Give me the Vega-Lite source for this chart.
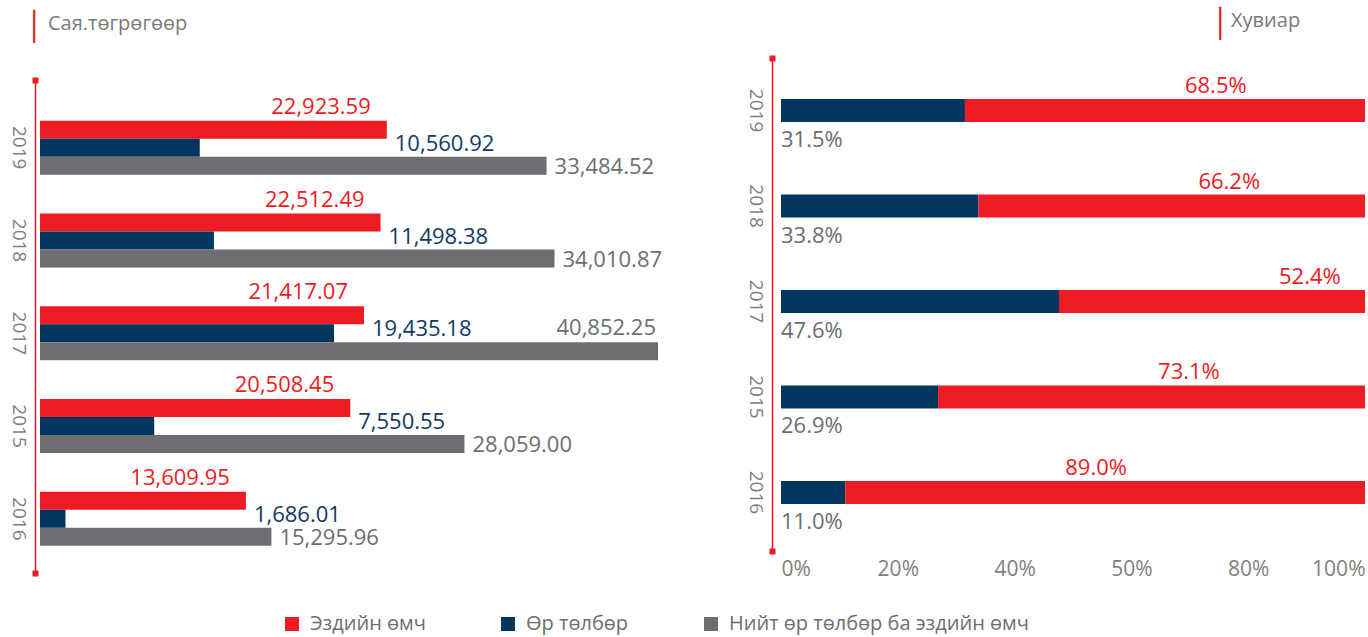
{
  "$schema": "https://vega.github.io/schema/vega-lite/v6.json",
  "background": "white",
  "padding": {"left": 8, "top": 11, "right": 2, "bottom": 2},
  "spacing": 25,
  "config": {
    "view": {"stroke": null},
    "font": "Open Sans",
    "axis": {"grid": false, "title": null},
    "title": {"anchor": "start", "frame": "group", "fontWeight": "normal"}
  },
  "datasets": {
    "fin": [
      {"year": "2019", "Эздийн өмч": 22923.59, "Өр төлбөр": 10560.92, "Нийт өр төлбөр ба эздийн өмч": 33484.52, "eqShare": 0.685, "liabShare": 0.315},
      {"year": "2018", "Эздийн өмч": 22512.49, "Өр төлбөр": 11498.38, "Нийт өр төлбөр ба эздийн өмч": 34010.87, "eqShare": 0.662, "liabShare": 0.338},
      {"year": "2017", "Эздийн өмч": 21417.07, "Өр төлбөр": 19435.18, "Нийт өр төлбөр ба эздийн өмч": 40852.25, "eqShare": 0.524, "liabShare": 0.476},
      {"year": "2015", "Эздийн өмч": 20508.45, "Өр төлбөр": 7550.55, "Нийт өр төлбөр ба эздийн өмч": 28059.00, "eqShare": 0.731, "liabShare": 0.269},
      {"year": "2016", "Эздийн өмч": 13609.95, "Өр төлбөр": 1686.01, "Нийт өр төлбөр ба эздийн өмч": 15295.96, "eqShare": 0.890, "liabShare": 0.110}
    ]
  },
  "hconcat": [
    {
      "title": {"text": "│", "color": "#ED1C24", "font": "DejaVu Sans", "fontSize": 28, "dx": -14, "offset": -28},
      "spacing": 15,
      "vconcat": [
        {
          "width": 680,
          "height": 1,
          "title": {"text": "Сая.төгрөгөөр", "color": "#7a7a7a", "font": "Open Sans", "fontSize": 20, "dx": 8, "offset": 24},
          "data": {"values": [{}]},
          "mark": {"type": "rule", "opacity": 0},
          "encoding": {}
        },
        {
          "width": 680,
          "height": 493,
          "data": {"name": "fin"},
          "transform": [{"fold": ["Эздийн өмч", "Өр төлбөр", "Нийт өр төлбөр ба эздийн өмч"], "as": ["series", "value"]}],
          "encoding": {
            "y": {
              "field": "year", "type": "nominal",
              "sort": ["2019", "2018", "2017", "2015", "2016"],
              "scale": {"paddingInner": 0.418, "paddingOuter": 0.366, "align": 0.6},
              "axis": {"orient": "left", "domainColor": "#ED1C24", "domainWidth": 1.5, "ticks": false, "labelAngle": 90, "labelAlign": "center", "labelBaseline": "top", "labelFontSize": 19, "labelColor": "#7f7f7f", "labelPadding": 8, "offset": 5}
            },
            "yOffset": {
              "field": "series", "type": "nominal",
              "sort": ["Эздийн өмч", "Өр төлбөр", "Нийт өр төлбөр ба эздийн өмч"],
              "scale": {"paddingInner": 0, "paddingOuter": 0}
            }
          },
          "resolve": {"axis": {"x": "independent"}},
          "layer": [
            {
              "mark": {"type": "bar"},
              "encoding": {
                "x": {"field": "value", "type": "quantitative", "scale": {"domain": [0, 44950], "nice": false},
                      "axis": {"orient": "bottom", "values": [0], "labels": false, "domain": false, "ticks": true, "tickColor": "#ED1C24", "tickWidth": 6, "tickSize": 6, "tickOffset": -5, "offset": -3, "tickCap": "butt"}},
                "color": {
                  "field": "series", "type": "nominal",
                  "scale": {"domain": ["Эздийн өмч", "Өр төлбөр", "Нийт өр төлбөр ба эздийн өмч"], "range": ["#ED1C24", "#02365F", "#6D6E71"]},
                  "legend": {"orient": "none", "legendX": 242, "legendY": 556, "padding": 0, "title": null, "direction": "horizontal", "symbolType": "square", "symbolSize": 196, "symbolStrokeWidth": 0, "labelFontSize": 20, "labelColor": "#6D6E71", "labelOffset": 8, "labelLimit": 500, "columnPadding": 72}
                }
              }
            },
            {
              "transform": [{"filter": "datum.series == 'Эздийн өмч'"}],
              "mark": {"type": "text", "align": "right", "baseline": "alphabetic", "dx": -16, "dy": -16, "fontSize": 22, "color": "#ED1C24"},
              "encoding": {
                "x": {"field": "value", "type": "quantitative", "scale": {"domain": [0, 44950], "nice": false},
                      "axis": {"orient": "top", "values": [0], "labels": false, "domain": false, "ticks": true, "tickColor": "#ED1C24", "tickWidth": 6, "tickSize": 6, "tickOffset": -5, "offset": -3, "tickCap": "butt"}},
                "text": {"field": "value", "type": "quantitative", "format": ",.2f"}
              }
            },
            {
              "transform": [{"filter": "datum.series == 'Өр төлбөр'"}],
              "mark": {"type": "text", "align": "left", "baseline": "alphabetic", "dx": 8, "dy": 3, "fontSize": 22, "color": "#123A63"},
              "encoding": {
                "x": {"field": "Эздийн өмч", "type": "quantitative", "scale": {"domain": [0, 44950], "nice": false}, "axis": null},
                "text": {"field": "value", "type": "quantitative", "format": ",.2f"}
              }
            },
            {
              "transform": [{"filter": "datum.series == 'Нийт өр төлбөр ба эздийн өмч' && datum.year != '2017'"}],
              "mark": {"type": "text", "align": "left", "baseline": "alphabetic", "dx": 8, "dy": 8, "fontSize": 22, "color": "#6D6E71"},
              "encoding": {
                "x": {"field": "value", "type": "quantitative", "scale": {"domain": [0, 44950], "nice": false}, "axis": null},
                "text": {"field": "value", "type": "quantitative", "format": ",.2f"}
              }
            },
            {
              "transform": [{"filter": "datum.series == 'Нийт өр төлбөр ба эздийн өмч' && datum.year == '2017'"}],
              "mark": {"type": "text", "align": "right", "baseline": "alphabetic", "dx": -2, "dy": -16, "fontSize": 22, "color": "#6D6E71"},
              "encoding": {
                "x": {"field": "value", "type": "quantitative", "scale": {"domain": [0, 44950], "nice": false}, "axis": null},
                "text": {"field": "value", "type": "quantitative", "format": ",.2f"}
              }
            }
          ]
        }
      ]
    },
    {
      "title": {"text": "│", "color": "#ED1C24", "font": "DejaVu Sans", "fontSize": 28, "dx": 431, "offset": -28},
      "vconcat": [
        {
          "width": 584,
          "height": 493,
          "title": {"text": "Хувиар", "color": "#7a7a7a", "font": "Open Sans", "fontSize": 20, "dx": 450, "offset": 21},
          "data": {"name": "fin"},
          "encoding": {
            "y": {
              "field": "year", "type": "nominal",
              "sort": ["2019", "2018", "2017", "2015", "2016"],
              "scale": {"paddingInner": 0.759, "paddingOuter": 0.461, "align": 0.466},
              "axis": {"orient": "left", "domainColor": "#ED1C24", "domainWidth": 1.5, "ticks": false, "labelAngle": 90, "labelAlign": "center", "labelBaseline": "top", "labelFontSize": 19, "labelColor": "#7f7f7f", "labelPadding": 8, "offset": 9}
            }
          },
          "resolve": {"axis": {"x": "independent"}},
          "layer": [
            {
              "mark": {"type": "bar", "color": "#02365F"},
              "encoding": {
                "x": {"field": "liabShare", "type": "quantitative", "scale": {"domain": [0, 1], "nice": false},
                      "axis": {"orient": "bottom", "values": [0, 0.2, 0.4, 0.6, 0.8, 1], "labelExpr": "datum.value == 0.6 ? '50%' : format(datum.value, '.0%')", "labelFlush": true, "labelFontSize": 21, "labelColor": "#808080", "labelPadding": 4, "labelOffset": 9, "domain": false, "ticks": true, "tickColor": {"condition": {"test": "datum.value == 0", "value": "#ED1C24"}, "value": "rgba(0,0,0,0)"}, "tickWidth": 6, "tickSize": 6, "tickOffset": -9, "offset": -3, "tickCap": "butt"}}
              }
            },
            {
              "mark": {"type": "bar", "color": "#ED1C24"},
              "encoding": {
                "x": {"field": "liabShare", "type": "quantitative", "scale": {"domain": [0, 1], "nice": false}, "axis": null},
                "x2": {"datum": 1}
              }
            },
            {
              "mark": {"type": "text", "align": "left", "baseline": "alphabetic", "dx": 220, "dy": -17.5, "fontSize": 22, "color": "#ED1C24"},
              "encoding": {
                "x": {"field": "liabShare", "type": "quantitative", "scale": {"domain": [0, 1], "nice": false},
                      "axis": {"orient": "top", "values": [0], "labels": false, "domain": false, "ticks": true, "tickColor": "#ED1C24", "tickWidth": 6, "tickSize": 6, "tickOffset": -9, "offset": -3, "tickCap": "butt"}},
                "text": {"field": "eqShare", "type": "quantitative", "format": ".1%"}
              }
            },
            {
              "mark": {"type": "text", "align": "left", "baseline": "alphabetic", "dy": 36.5, "fontSize": 22, "color": "#6D6E71"},
              "encoding": {
                "x": {"datum": 0, "type": "quantitative", "scale": {"domain": [0, 1], "nice": false}, "axis": null},
                "text": {"field": "liabShare", "type": "quantitative", "format": ".1%"}
              }
            }
          ]
        }
      ]
    }
  ]
}
